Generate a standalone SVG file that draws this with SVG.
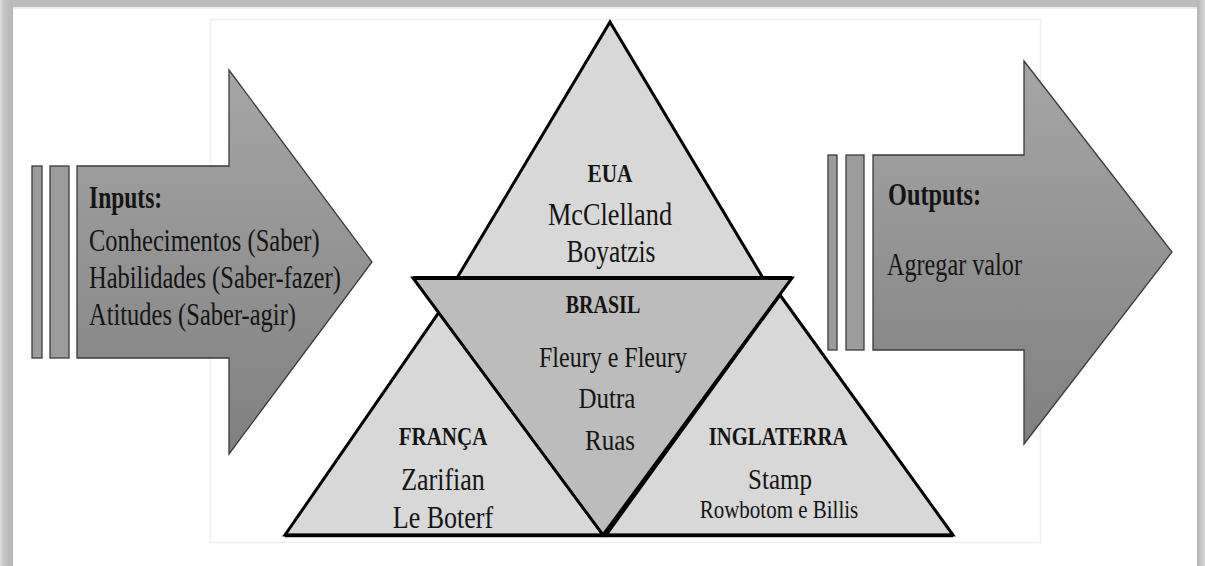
<svg xmlns="http://www.w3.org/2000/svg" width="1205" height="566" viewBox="0 0 1205 566">
  <defs>
    <linearGradient id="arrowFill" x1="0" y1="0" x2="0" y2="1">
      <stop offset="0" stop-color="#a6a6a6"/>
      <stop offset="1" stop-color="#808080"/>
    </linearGradient>
    <linearGradient id="leftEdge" x1="0" y1="0" x2="1" y2="0">
      <stop offset="0" stop-color="#dedede"/>
      <stop offset="0.3" stop-color="#c4c4c4"/>
      <stop offset="1" stop-color="#b6b6b6"/>
    </linearGradient>
    <linearGradient id="rightEdge" x1="0" y1="0" x2="1" y2="0">
      <stop offset="0" stop-color="#b4b4b4"/>
      <stop offset="1" stop-color="#d6d6d6"/>
    </linearGradient>
    <style>
      .bar { fill: #9c9c9c; stroke: #3c3c3c; stroke-width: 1.3; }
      .arrow { fill: url(#arrowFill); stroke: #3a3a3a; stroke-width: 1.3; }
      .tri { fill: #d8d8d8; stroke: #000; stroke-width: 3; stroke-linejoin: miter; }
      .tri-dark { fill: #bcbcbc; stroke: #000; stroke-width: 3; }
      text { font-family: 'Liberation Serif', 'Times New Roman', serif; fill: #141414; }
      .b { font-weight: bold; }
      .mid { text-anchor: middle; }
    </style>
  </defs>

  <!-- picture frame -->
  <g id="frame">
    <rect x="0" y="0" width="1205" height="566" fill="#bcbcbc"/>
    <rect x="0" y="0" width="13" height="566" fill="url(#leftEdge)"/>
    <rect x="1197" y="0" width="8" height="566" fill="url(#rightEdge)"/>
    <rect x="13" y="7" width="1184" height="559" fill="#ffffff"/>
    <rect x="13" y="7" width="1184" height="2" fill="#ececec"/>
    <rect x="210.5" y="19.5" width="830" height="523" fill="none" stroke="#efefef" stroke-width="1.5"/>
  </g>

  <!-- input arrow -->
  <g id="inputs">
    <rect class="bar" x="32" y="166" width="10" height="192"/>
    <rect class="bar" x="50" y="166" width="19" height="192"/>
    <path class="arrow" d="M77,166 H229 V70 L372,262 L229,454 V358 H77 Z"/>
    <text class="b" font-size="23.5" transform="translate(89 208) scale(1 1.3)">Inputs:</text>
    <text font-size="24.5" transform="translate(89 251) scale(1 1.3)">Conhecimentos (Saber)</text>
    <text font-size="24.5" transform="translate(89 288) scale(1 1.3)">Habilidades (Saber-fazer)</text>
    <text font-size="24.5" transform="translate(89 325) scale(1 1.3)">Atitudes (Saber-agir)</text>
  </g>

  <!-- output arrow -->
  <g id="outputs">
    <rect class="bar" x="828" y="155" width="9" height="195"/>
    <rect class="bar" x="846" y="155" width="18" height="195"/>
    <path class="arrow" d="M873,155 H1024 V61 L1172,252 L1024,444 V350 H873 Z"/>
    <text class="b" font-size="24.3" transform="translate(888 205) scale(1 1.3)">Outputs:</text>
    <text font-size="24.2" transform="translate(887 275) scale(1 1.3)">Agregar valor</text>
  </g>

  <!-- EUA -->
  <g id="eua">
    <polygon class="tri" points="610,22 763,278 457,278"/>
    <text class="b mid" font-size="21.3" transform="translate(610 182) scale(1 1.22)">EUA</text>
    <text class="mid" font-size="26.3" transform="translate(610 225) scale(1 1.22)">McClelland</text>
    <text class="mid" font-size="25.4" transform="translate(611 262) scale(1 1.22)">Boyatzis</text>
  </g>

  <!-- FRANÇA -->
  <g id="franca">
    <polygon class="tri" points="444,305 603,535 285,535"/>
    <text class="b mid" font-size="21" transform="translate(443 445) scale(1 1.22)">FRANÇA</text>
    <text class="mid" font-size="26" transform="translate(443 490) scale(1 1.22)">Zarifian</text>
    <text class="mid" font-size="26" transform="translate(443 528) scale(1 1.22)">Le Boterf</text>
  </g>

  <!-- INGLATERRA -->
  <g id="inglaterra">
    <polygon class="tri" points="780,295 953,535 606,535"/>
    <text class="b mid" font-size="20.7" transform="translate(778 445) scale(1 1.22)">INGLATERRA</text>
    <text class="mid" font-size="25" transform="translate(780 489) scale(1 1.22)">Stamp</text>
    <text class="mid" font-size="21" transform="translate(779 518) scale(1 1.22)">Rowbotom e Billis</text>
  </g>

  <!-- BRASIL (inverted, drawn on top) -->
  <g id="brasil">
    <polygon class="tri-dark" points="413,278 792,278 603,535"/>
    <line x1="413" y1="278" x2="792" y2="278" stroke="#000" stroke-width="4"/>
    <text class="b mid" font-size="20" transform="translate(603 313) scale(1 1.22)">BRASIL</text>
    <text class="mid" font-size="24" transform="translate(613 367) scale(1 1.22)">Fleury e Fleury</text>
    <text class="mid" font-size="25" transform="translate(607 408) scale(1 1.22)">Dutra</text>
    <text class="mid" font-size="25" transform="translate(610 450) scale(1 1.22)">Ruas</text>
  </g>

  <!-- shared base line -->
  <g id="connectors">
    <line x1="285" y1="535.5" x2="953" y2="535.5" stroke="#000" stroke-width="3.5"/>
  </g>
</svg>
